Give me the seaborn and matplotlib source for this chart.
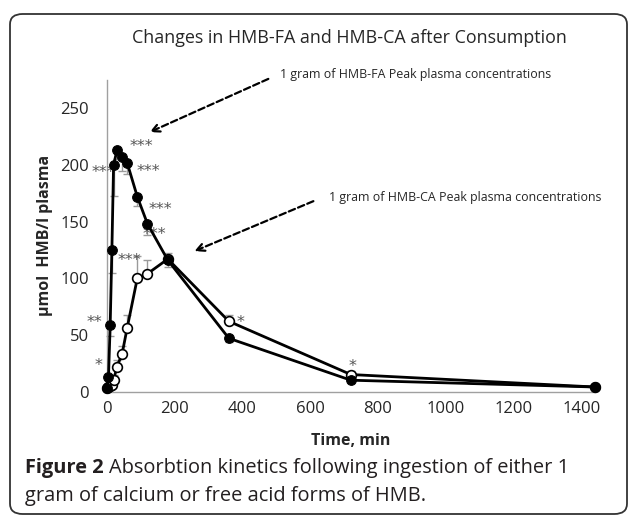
"""Cinetica de absorcion de HMB-FA y HMB-CA tras el consumo."""

import matplotlib.pyplot as plt
import seaborn as sns
from matplotlib.patches import FancyBboxPatch

# tiempos de muestreo (min) y concentraciones (umol HMB/l plasma)
time_min = [0, 5, 10, 15, 20, 30, 45, 60, 90, 120, 180, 360, 720, 1440]
hmb_fa = [3, 13, 59, 125, 200, 213, 207, 202, 172, 148, 116, 47, 10, 4]
hmb_ca = [3, 4, 5, 6, 10, 22, 33, 56, 100, 104, 117, 62, 15, 4]
fa_err = [0, 3, 10, 20, 27, 8, 12, 10, 8, 10, 6, 3, 2, 1]
ca_err = [1, 1, 2, 3, 5, 6, 7, 12, 20, 12, 5, 6, 3, 1]

# marcas de significancia
star_labels = ["***", "***", "***", "***", "***", "***", "**", "*", "*", "*"]
star_x = [68, -46, 88, 122, 107, 33, -59, -35, 383, 712]
star_y = [216, 193, 194, 161, 139, 116, 61, 23, 61, 22]

x_ticks = [0, 200, 400, 600, 800, 1000, 1200, 1400]
y_ticks = [0, 50, 100, 150, 200, 250]

sns.set_style("white")
plt.rcParams["font.family"] = ["Open Sans", "DejaVu Sans"]

fig = plt.figure(figsize=(6.29, 5.17), dpi=100)
ax = fig.add_axes([0.1698, 0.2427, 0.776, 0.6025])

zeros = [0] * len(time_min)
ax.errorbar(time_min, hmb_fa, yerr=[fa_err, zeros], fmt="none",
            ecolor="#9a9a9a", elinewidth=1, capsize=3, zorder=1, clip_on=False)
ax.errorbar(time_min, hmb_ca, yerr=[zeros, ca_err], fmt="none",
            ecolor="#9a9a9a", elinewidth=1, capsize=3, zorder=1, clip_on=False)

sns.lineplot(x=time_min, y=hmb_ca, ax=ax, color="black", linewidth=2,
             marker="o", markersize=7, markerfacecolor="white",
             markeredgecolor="black", markeredgewidth=1.2,
             errorbar=None, clip_on=False, zorder=3)
sns.lineplot(x=time_min, y=hmb_fa, ax=ax, color="black", linewidth=2,
             marker="o", markersize=7, markerfacecolor="black",
             markeredgecolor="black", errorbar=None, clip_on=False, zorder=4)

for label, sx, sy in zip(star_labels, star_x, star_y):
    ax.text(sx, sy, label, ha="left", va="center", fontsize=11.5,
            color="#555555", family="DejaVu Sans", clip_on=False)

ax.set_xlim(0, 1440)
ax.set_ylim(0, 275)
ax.set_xticks(x_ticks)
ax.set_yticks(y_ticks)
ax.tick_params(axis="x", direction="in", length=4, color="#999999",
               labelsize=12, pad=7)
ax.tick_params(axis="y", direction="inout", length=6, color="#999999",
               labelsize=12, pad=10)
for side in ["top", "right"]:
    ax.spines[side].set_visible(False)
for side in ["left", "bottom"]:
    ax.spines[side].set_color("#a0a0a0")
    ax.spines[side].set_linewidth(1)

ax.set_xlabel("Time, min", fontsize=11.5, fontweight="bold", labelpad=11)
ax.set_ylabel("\u03bcmol  HMB/l plasma", fontsize=11.5, fontweight="bold",
              labelpad=5)

arrow_style = dict(arrowstyle="->", color="black", lw=1.6,
                   linestyle=(0, (3, 1.5)), mutation_scale=14)
ax.annotate("", xy=(119, 228), xytext=(484, 277), arrowprops=arrow_style,
            annotation_clip=False)
ax.annotate("", xy=(251, 123), xytext=(617, 169), arrowprops=arrow_style,
            annotation_clip=False)
ax.text(511, 280, "1 gram of HMB-FA Peak plasma concentrations",
        fontsize=8.9, va="center", ha="left")
ax.text(655, 171, "1 gram of HMB-CA Peak plasma concentrations",
        fontsize=8.9, va="center", ha="left")

fig.text(0.556, 0.9265, "Changes in HMB-FA and HMB-CA after Consumption",
         ha="center", va="center", fontsize=12.9)

# marco redondeado de la figura
frame = FancyBboxPatch((10 / 629, 3 / 517), 617 / 629, 500 / 517,
                       boxstyle="round,pad=0,rounding_size=0.02",
                       transform=fig.transFigure, fill=False,
                       edgecolor="#333333", linewidth=1.3)
fig.add_artist(frame)

# pie de figura
cap_color = "#231f20"
cap_size = 14.4
bold_part = fig.text(25 / 629, 1 - 468 / 517, "Figure 2", fontsize=cap_size,
                     fontweight="bold", color=cap_color, va="center")
fig.canvas.draw()
bbox = bold_part.get_window_extent(fig.canvas.get_renderer())
fig.text(bbox.x1 / fig.bbox.width + 0.008, 1 - 468 / 517,
         "Absorbtion kinetics following ingestion of either 1",
         fontsize=cap_size, color=cap_color, va="center")
fig.text(25 / 629, 1 - 496 / 517, "gram of calcium or free acid forms of HMB.",
         fontsize=cap_size, color=cap_color, va="center")

fig.savefig("out.png", dpi=100)
plt.close(fig)
